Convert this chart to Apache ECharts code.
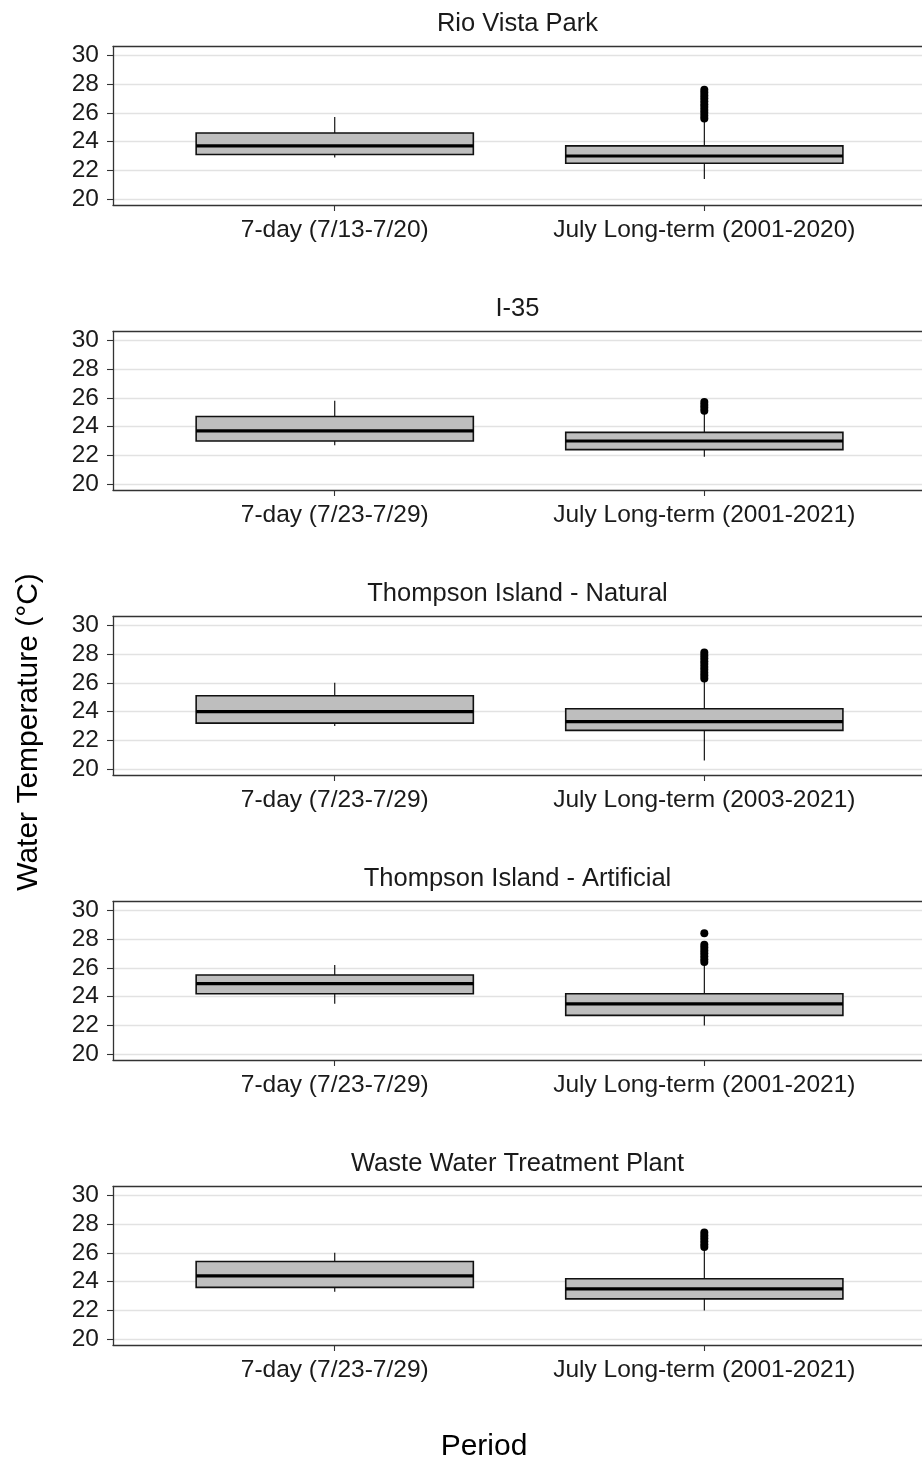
<!DOCTYPE html>
<html>
<head>
<meta charset="utf-8">
<title>Water Temperature by Site</title>
<script src="https://cdn.jsdelivr.net/npm/echarts@6/dist/echarts.min.js"></script>
<style>
  html, body { margin: 0; padding: 0; background: #ffffff; }
  #chart { width: 922px; height: 1463px; }
</style>
</head>
<body>
<div id="chart"></div>
<script>
// Monitoring sites, one panel each
const siteNames = [
  'Rio Vista Park',
  'I-35',
  'Thompson Island - Natural',
  'Thompson Island - Artificial',
  'Waste Water Treatment Plant'
];

// Period labels per site: [recent 7-day window, July long-term record]
const periodLabels = [
  ['7-day (7/13-7/20)', 'July Long-term (2001-2020)'],
  ['7-day (7/23-7/29)', 'July Long-term (2001-2021)'],
  ['7-day (7/23-7/29)', 'July Long-term (2003-2021)'],
  ['7-day (7/23-7/29)', 'July Long-term (2001-2021)'],
  ['7-day (7/23-7/29)', 'July Long-term (2001-2021)']
];

// Box statistics (°C): [lower whisker, Q1, median, Q3, upper whisker]
const sevenDayStats = [
  [22.9, 23.1, 23.7, 24.6, 25.7],
  [22.7, 23.0, 23.7, 24.7, 25.8],
  [23.0, 23.2, 24.0, 25.1, 26.0],
  [23.5, 24.2, 24.9, 25.5, 26.2],
  [23.3, 23.6, 24.4, 25.4, 26.0]
];
const longTermStats = [
  [21.4, 22.5, 23.0, 23.7, 25.5],
  [21.9, 22.4, 23.0, 23.6, 25.0],
  [20.6, 22.7, 23.3, 24.2, 26.1],
  [22.0, 22.7, 23.5, 24.2, 26.2],
  [22.0, 22.8, 23.5, 24.2, 26.2]
];

// Long-term outliers above the upper whisker (°C)
const longTermOutliers = [
  [25.6, 25.8, 26.0, 26.2, 26.4, 26.6, 26.8, 27.0, 27.2, 27.4, 27.6],
  [25.1, 25.3, 25.5, 25.7],
  [26.3, 26.5, 26.7, 26.9, 27.1, 27.3, 27.5, 27.7, 27.9, 28.1],
  [26.4, 26.6, 26.8, 27.0, 27.2, 27.4, 27.6, 28.4],
  [26.4, 26.6, 26.8, 27.0, 27.2, 27.4]
];

// Shared y-axis ticks
const yTicks = [20, 22, 24, 26, 28, 30];
const periodPositions = [1, 2];

const FONT = '"Liberation Sans", Arial, Helvetica, sans-serif';
const TEXT_COLOR = '#1a1a1a';
const FRAME = { color: '#333', width: 1.3 };
const PANEL_TOP = 46.5;
const PANEL_STEP = 285;
const PANEL_HEIGHT = 158.5;
const PANEL_LEFT = 113;
const BOX_WIDTH = 0.75;
// The panel's x range is 0.4 .. 2.6; the page edge trims its right end slightly
const X_MIN = 0.4;
const X_MAX = 2.589;

function renderBox(params, api) {
  const x = api.value(0);
  const pLo = api.coord([x, api.value(1)]);
  const pQ1 = api.coord([x, api.value(2)]);
  const pMed = api.coord([x, api.value(3)]);
  const pQ3 = api.coord([x, api.value(4)]);
  const pHi = api.coord([x, api.value(5)]);
  const half = api.size([BOX_WIDTH, 0])[0] / 2;
  return {
    type: 'group',
    children: [
      { type: 'line', shape: { x1: pHi[0], y1: pHi[1], x2: pQ3[0], y2: pQ3[1] },
        style: { stroke: '#000', lineWidth: 1.1 } },
      { type: 'line', shape: { x1: pQ1[0], y1: pQ1[1], x2: pLo[0], y2: pLo[1] },
        style: { stroke: '#000', lineWidth: 1.1 } },
      { type: 'rect', shape: { x: pQ3[0] - half, y: pQ3[1], width: half * 2, height: pQ1[1] - pQ3[1] },
        style: { fill: '#bebebe', stroke: '#111', lineWidth: 1.6 } },
      { type: 'line', shape: { x1: pMed[0] - half, y1: pMed[1], x2: pMed[0] + half, y2: pMed[1] },
        style: { stroke: '#000', lineWidth: 3.2 } }
    ]
  };
}

const grids = [], xAxes = [], yAxes = [], series = [], graphics = [];

siteNames.forEach(function (name, k) {
  const top = PANEL_TOP + PANEL_STEP * k;
  grids.push({ left: PANEL_LEFT, right: 0, top: top, height: PANEL_HEIGHT, show: false });

  // bottom axis with the period labels
  xAxes.push({
    type: 'value', gridIndex: k, position: 'bottom', min: X_MIN, max: X_MAX,
    axisLine: { show: true, onZero: false, lineStyle: FRAME },
    axisTick: { show: true, customValues: periodPositions, length: 6, lineStyle: { color: '#333', width: 1.1 } },
    axisLabel: {
      customValues: periodPositions,
      formatter: function (v) { return periodLabels[k][Math.round(v) - 1]; },
      fontSize: 24.5, fontFamily: FONT, color: TEXT_COLOR, margin: 13
    },
    splitLine: { show: false }
  });
  // top edge of the panel frame
  xAxes.push({
    type: 'value', gridIndex: k, position: 'top', min: X_MIN, max: X_MAX,
    axisLine: { show: true, onZero: false, lineStyle: FRAME },
    axisTick: { show: false }, axisLabel: { show: false }, splitLine: { show: false }
  });
  yAxes.push({
    type: 'value', gridIndex: k, min: 19.6, max: 30.6,
    axisLine: { show: true, onZero: false, lineStyle: FRAME },
    axisTick: { show: true, customValues: yTicks, length: 6, lineStyle: { color: '#333', width: 1.1 } },
    axisLabel: { customValues: yTicks, fontSize: 24.5, fontFamily: FONT, color: TEXT_COLOR,
                 margin: 14, padding: [4, 0, 0, 0] },
    splitLine: { show: true, lineStyle: { color: '#e2e2e2', width: 1.4 } }
  });
  series.push({
    type: 'custom', xAxisIndex: 2 * k, yAxisIndex: k,
    renderItem: renderBox,
    encode: { x: 0, y: [1, 2, 3, 4, 5] },
    data: [
      [periodPositions[0]].concat(sevenDayStats[k]),
      [periodPositions[1]].concat(longTermStats[k])
    ],
    z: 3
  });
  series.push({
    type: 'scatter', xAxisIndex: 2 * k, yAxisIndex: k,
    symbol: 'circle', symbolSize: 8,
    itemStyle: { color: '#000', opacity: 1 },
    data: longTermOutliers[k].map(function (v) { return [periodPositions[1], v]; }),
    z: 4
  });
  graphics.push({
    type: 'text', x: 517.5, y: 23.5 + PANEL_STEP * k,
    style: { text: name, fontSize: 25.5, fontFamily: FONT, fill: TEXT_COLOR,
             textAlign: 'center', textVerticalAlign: 'middle' }
  });
});

graphics.push({
  type: 'text', x: 29, y: 732, rotation: Math.PI / 2,
  style: { text: 'Water Temperature (°C)', fontSize: 30, fontFamily: FONT, fill: '#000',
           textAlign: 'center', textVerticalAlign: 'middle' }
});
graphics.push({
  type: 'text', x: 484, y: 1447,
  style: { text: 'Period', fontSize: 30, fontFamily: FONT, fill: '#000',
           textAlign: 'center', textVerticalAlign: 'middle' }
});

const chart = echarts.init(document.getElementById('chart'), null, { renderer: 'canvas' });
chart.setOption({
  animation: false,
  backgroundColor: '#ffffff',
  grid: grids,
  xAxis: xAxes,
  yAxis: yAxes,
  series: series,
  graphic: graphics
});
</script>
</body>
</html>
